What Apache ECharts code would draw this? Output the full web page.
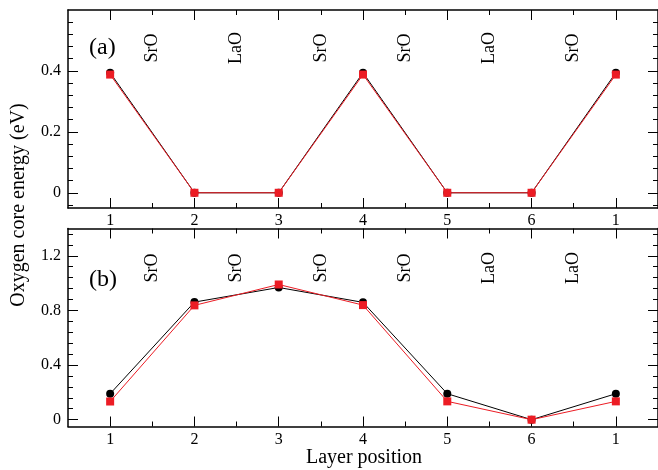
<!DOCTYPE html>
<html>
<head>
<meta charset="utf-8">
<script src="https://cdn.jsdelivr.net/npm/echarts@6/dist/echarts.min.js"></script>
<style>
  html, body { margin: 0; padding: 0; background: #fff; }
  #chart { width: 658px; height: 470px; }
</style>
</head>
<body>
<div id="chart"></div>
<script>
// ---------- data ----------
const positions = [1, 2, 3, 4, 5, 6, 7];
const xTickLabels = ['1', '2', '3', '4', '5', '6', '1'];
const xMinorTicks = [1.5, 2.5, 3.5, 4.5, 5.5, 6.5];

// panel (a)
const aBlack = [0.394, 0, 0, 0.394, 0, 0, 0.394];
const aRed   = [0.388, 0, 0, 0.388, 0, 0, 0.388];
const aLayers = ['SrO', 'LaO', 'SrO', 'SrO', 'LaO', 'SrO'];
const aYTicks = [0, 0.2, 0.4];
const aYMinor = [-0.04, 0.04, 0.08, 0.12, 0.16, 0.24, 0.28, 0.32, 0.36, 0.44, 0.48, 0.52, 0.56];

// panel (b)
const bBlack = [0.19, 0.861, 0.968, 0.859, 0.19, 0, 0.19];
const bRed   = [0.133, 0.837, 0.99, 0.839, 0.134, 0, 0.134];
const bLayers = ['SrO', 'SrO', 'SrO', 'SrO', 'LaO', 'LaO'];
const bYTicks = [0, 0.4, 0.8, 1.2];
const bYMinor = [0.08, 0.16, 0.24, 0.32, 0.48, 0.56, 0.64, 0.72, 0.88, 0.96, 1.04, 1.12, 1.28, 1.36];

// ---------- helpers ----------
const FONT = 'Liberation Serif';
const RED = '#ec1c24';

function xAxisDef(grid, position, ticks, len, labels, showLine) {
  return {
    type: 'value', gridIndex: grid, position: position,
    min: 0.5, max: 7.5,
    axisLine: { show: showLine, onZero: false, lineStyle: { color: '#000', width: 1.5 } },
    axisTick: { show: true, inside: true, length: len, customValues: ticks,
                lineStyle: { color: '#000', width: 1 } },
    axisLabel: labels ? {
      show: true, customValues: positions,
      formatter: v => xTickLabels[positions.indexOf(Math.round(v))],
      fontFamily: FONT, fontSize: 16, color: '#000', margin: 5
    } : { show: false },
    splitLine: { show: false }
  };
}
function yAxisDef(grid, position, min, max, ticks, len, labels, showLine) {
  return {
    type: 'value', gridIndex: grid, position: position,
    min: min, max: max,
    axisLine: { show: showLine, onZero: false, lineStyle: { color: '#000', width: 1.5 } },
    axisTick: { show: true, inside: true, length: len, customValues: ticks,
                lineStyle: { color: '#000', width: 1 } },
    axisLabel: labels ? {
      show: true, customValues: ticks,
      formatter: v => (Math.abs(v) < 1e-9 ? '0' : String(+v.toFixed(2))),
      fontFamily: FONT, fontSize: 16, color: '#000', margin: 7
    } : { show: false },
    splitLine: { show: false }
  };
}

const xAxes = [];
const yAxes = [];
[0, 1].forEach(g => {
  xAxes.push(xAxisDef(g, 'bottom', positions, 10, true, true));
  xAxes.push(xAxisDef(g, 'bottom', xMinorTicks, 5, false, false));
  xAxes.push(xAxisDef(g, 'top', positions, 10, false, true));
  xAxes.push(xAxisDef(g, 'top', xMinorTicks, 5, false, false));
});
[[0, -0.05, 0.6, aYTicks, aYMinor], [1, -0.05, 1.4, bYTicks, bYMinor]].forEach(([g, mn, mx, tk, mi]) => {
  yAxes.push(yAxisDef(g, 'left', mn, mx, tk, 10, true, true));
  yAxes.push(yAxisDef(g, 'left', mn, mx, mi, 5, false, false));
  yAxes.push(yAxisDef(g, 'right', mn, mx, tk, 10, false, true));
  yAxes.push(yAxisDef(g, 'right', mn, mx, mi, 5, false, false));
});

function lineSeries(gridIdx, values, color, symbol, size) {
  return {
    type: 'line', xAxisIndex: gridIdx * 4, yAxisIndex: gridIdx * 4,
    data: positions.map((p, i) => [p, values[i]]),
    symbol: symbol, symbolSize: size, showSymbol: true,
    lineStyle: { color: color, width: 1 },
    itemStyle: { color: color },
    animation: false, z: color === RED ? 3 : 2
  };
}
function layerSeries(gridIdx, names, yPos) {
  return {
    type: 'scatter', xAxisIndex: gridIdx * 4, yAxisIndex: gridIdx * 4,
    data: xMinorTicks.map((p, i) => [p, yPos, names[i]]),
    symbolSize: 0, silent: true, animation: false,
    label: {
      show: true, position: 'inside', rotate: 90,
      formatter: p => p.value[2],
      fontFamily: FONT, fontSize: 18, color: '#000',
      textBorderWidth: 0, opacity: 1
    }
  };
}

const option = {
  backgroundColor: '#fff',
  animation: false,
  grid: [
    { left: 68, top: 10, width: 592, height: 198 },
    { left: 68, top: 228.5, width: 592, height: 198 }
  ],
  xAxis: xAxes,
  yAxis: yAxes,
  series: [
    lineSeries(0, aBlack, '#000', 'circle', 8),
    lineSeries(0, aRed, RED, 'rect', 8),
    lineSeries(1, bBlack, '#000', 'circle', 8),
    lineSeries(1, bRed, RED, 'rect', 8),
    layerSeries(0, aLayers, 0.475),
    layerSeries(1, bLayers, 1.11)
  ],
  graphic: [
    { type: 'text', left: 89, top: 36,
      style: { text: '(a)', font: '24px "Liberation Serif"', fill: '#000' } },
    { type: 'text', left: 89, top: 268,
      style: { text: '(b)', font: '24px "Liberation Serif"', fill: '#000' } },
    { type: 'text', x: 19, y: 205, rotation: Math.PI / 2,
      style: { text: 'Oxygen core energy (eV)', font: '20px "Liberation Serif"', fill: '#000',
               align: 'center', verticalAlign: 'middle' } },
    { type: 'text', x: 364, y: 458,
      style: { text: 'Layer position', font: '20px "Liberation Serif"', fill: '#000',
               align: 'center', verticalAlign: 'middle' } }
  ]
};

const chart = echarts.init(document.getElementById('chart'), null, { renderer: 'canvas' });
chart.setOption(option);
</script>
</body>
</html>
